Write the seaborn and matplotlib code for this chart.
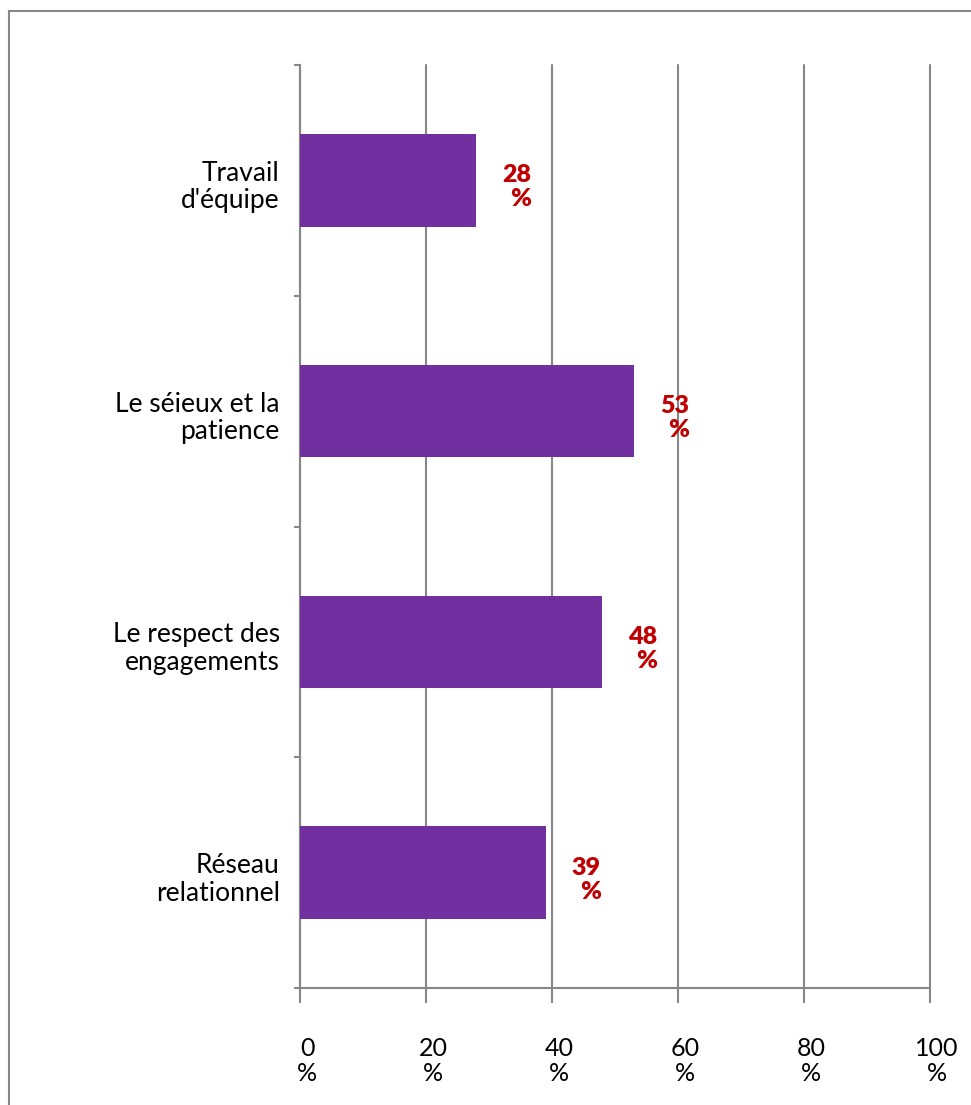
import matplotlib
matplotlib.use("Agg")
import matplotlib.pyplot as plt
import matplotlib.transforms as mtransforms
from matplotlib.patches import Rectangle
import seaborn as sns
import pandas as pd

# Chart data
categories = ["Travail\nd'équipe", "Le séieux et la\npatience", "Le respect des\nengagements", "Réseau\nrelationnel"]
values = [28, 53, 48, 39]
x_ticks = [0, 20, 40, 60, 80, 100]
x_tick_labels = ["0\n%", "20\n%", "40\n%", "60\n%", "80\n%", "100\n%"]

bar_color = "#7030A0"
label_color = "#C00000"
line_color = "#878787"

sns.set_theme(style="white")
plt.rcParams["font.family"] = ["Lato", "DejaVu Sans"]

df = pd.DataFrame({"categorie": categories, "valeur": values})

W, H = 971, 1105
fig = plt.figure(figsize=(W / 100, H / 100), dpi=100)
ax = fig.add_axes([300 / W, 1 - 988 / H, 630 / W, (988 - 65) / H])

sns.barplot(data=df, y="categorie", x="valeur", orient="h", color=bar_color,
            width=0.4, saturation=1, linewidth=0, ax=ax, zorder=3)

ax.set_xlim(0, 100)
ax.set_ylim(3.5, -0.5)
ax.set_xlabel("")
ax.set_ylabel("")

# Vertical gridlines
ax.set_xticks(x_ticks)
ax.set_xticklabels(x_tick_labels, fontsize=18, color="black", linespacing=1.1)
ax.xaxis.grid(True, color=line_color, linewidth=1.5, zorder=0)
for gl in ax.get_xgridlines():
    gl.set_clip_on(False)
ax.set_axisbelow(True)
ax.tick_params(axis="x", which="major", length=11, width=1.5, color=line_color,
               direction="out", pad=24, bottom=True)
for lbl in ax.get_xticklabels():
    lbl.set_transform(lbl.get_transform() +
                      mtransforms.ScaledTranslation(7 / 100, 0, fig.dpi_scale_trans))

# Category boundaries as major ticks, names as minor ticks
ax.set_yticks([-0.5, 0.5, 1.5, 2.5, 3.5])
ax.set_yticklabels([])
ax.set_yticks(range(len(categories)), minor=True)
ax.set_yticklabels(categories, minor=True, fontsize=19, color="black",
                   linespacing=1.12, ha="right")
ax.tick_params(axis="y", which="major", length=4.5, width=1.5, color=line_color,
               direction="out", left=True)
ax.tick_params(axis="y", which="minor", length=0, pad=14.5)
for lbl in ax.get_yticklabels(minor=True):
    lbl.set_transform(lbl.get_transform() +
                      mtransforms.ScaledTranslation(0, -3 / 100, fig.dpi_scale_trans))

for side in ["top", "right"]:
    ax.spines[side].set_visible(False)
for side in ["left", "bottom"]:
    ax.spines[side].set_color(line_color)
    ax.spines[side].set_linewidth(1.5)

# Value labels next to each bar
for i, v in enumerate(values):
    ax.annotate(f"{v}\n%", xy=(v, i), xytext=(55, -7), textcoords="offset pixels",
                ha="right", va="center", multialignment="right",
                fontsize=18, fontweight="heavy", color=label_color,
                linespacing=1.1, zorder=5)

# Outer frame
fig.patches.append(Rectangle((9 / W, -0.05), 1.2, 1 - 10.5 / H + 0.05,
                             transform=fig.transFigure, fill=False,
                             edgecolor=line_color, linewidth=1.5))

fig.savefig("out.png", dpi=100)
